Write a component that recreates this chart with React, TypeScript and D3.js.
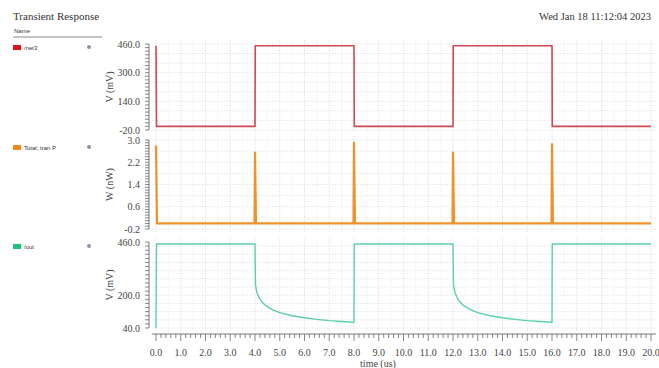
import React from 'react';
import * as d3 from 'd3';

// time axis labels (us)
const timeTicks = [0, 1, 2, 3, 4, 5, 6, 7, 8, 9, 10, 11, 12, 13, 14, 15, 16, 17, 18, 19, 20];

// /net3 (mV)
const net3Times = [0, 0.02, 4, 4.01, 8, 8.01, 12, 12.01, 16, 16.01, 20];
const net3Values = [450, 0, 0, 450, 450, 0, 0, 450, 450, 0, 0];

// Total; tran P (nW)
const powerTimes = [0, 0.04, 3.98, 4.0, 4.04, 7.98, 8.0, 8.04, 11.98, 12.0, 12.04, 15.98, 16.0, 16.04, 20];
const powerValues = [2.8, 0.0, 0.0, 2.55, 0.0, 0.0, 2.9, 0.0, 0.0, 2.55, 0.0, 0.0, 2.85, 0.0, 0.0];

// /out (mV)
const outTimes = [
  0, 0.02, 4.0, 4.02, 4.08, 4.2, 4.4, 4.7, 5.0, 5.5, 6.0, 6.5, 7.0, 7.5, 8.0, 8.01,
  12.0, 12.02, 12.08, 12.2, 12.4, 12.7, 13.0, 13.5, 14.0, 14.5, 15.0, 15.5, 16.0, 16.01, 20,
];
const outValues = [
  40, 450, 450, 250, 212, 180, 152, 130, 115, 100, 90, 82, 76, 72, 68, 450,
  450, 250, 212, 180, 152, 130, 115, 100, 90, 82, 76, 72, 68, 450, 450,
];

const net3Labels = [460, 300, 140, -20];
const powerLabels = [3.0, 2.2, 1.4, 0.6, -0.2];
const outLabels = [460, 200, 40];

const serifFamily = 'Liberation Serif, Times New Roman, DejaVu Serif, serif';
const sansFamily = 'Liberation Sans, DejaVu Sans, sans-serif';

const x = d3.scaleLinear().domain([0, 20]).range([156, 651]);
const plotLeft = 152;
const plotRight = 656;

type Panel = {
  name: string;
  swatch: string;
  color: string;
  width: number;
  unit: string;
  domain: [number, number];
  range: [number, number];
  labels: number[];
  minor: number;
  grid: number;
  times: number[];
  values: number[];
  legendY: number;
};

const panels: Panel[] = [
  {
    name: '/net3', swatch: '#e0141e', color: '#cf4a52', width: 1.6, unit: 'V (mV)',
    domain: [-20, 460], range: [130, 44], labels: net3Labels, minor: 20, grid: 160 / 3,
    times: net3Times, values: net3Values, legendY: 47,
  },
  {
    name: 'Total; tran P', swatch: '#f08a1c', color: '#f0922a', width: 2.2, unit: 'W (nW)',
    domain: [-0.2, 3.0], range: [229, 140], labels: powerLabels, minor: 0.1, grid: 0.4,
    times: powerTimes, values: powerValues, legendY: 147,
  },
  {
    name: '/out', swatch: '#20c080', color: '#5ccfae', width: 1.4, unit: 'V (mV)',
    domain: [40, 460], range: [328, 242], labels: outLabels, minor: 20, grid: 40,
    times: outTimes, values: outValues, legendY: 246,
  },
];

const PanelView = ({ p }: { p: Panel }) => {
  const y = d3.scaleLinear().domain(p.domain).range(p.range);
  const top = p.range[1] - 4;
  const bottom = p.range[0] + 4;
  const pts = p.times.map((t, i) => [t, p.values[i]] as [number, number]);
  const line = d3
    .line<[number, number]>()
    .x((d) => x(d[0]))
    .y((d) => y(d[1]));

  const minorTicks: number[] = [];
  for (let v = p.domain[0]; v <= p.domain[1] + 1e-9; v += p.minor) minorTicks.push(v);
  const gridLines: number[] = [];
  for (let v = p.domain[0]; v <= p.domain[1] + 1e-9; v += p.grid) gridLines.push(v);
  const vGrid: number[] = [];
  for (let t = 0; t <= 20.001; t += 0.5) vGrid.push(t);

  const mid = (p.range[0] + p.range[1]) / 2;

  return (
    <g>
      {/* legend */}
      <rect x={13} y={p.legendY - 2} width={8} height={5} fill={p.swatch} />
      <text x={24} y={p.legendY + 2.5} fontSize={6} fontFamily={sansFamily} fill="#333">
        {p.name}
      </text>
      <circle cx={89} cy={p.legendY} r={2} fill="#8a94a8" />

      {/* grid */}
      <rect x={plotLeft} y={top} width={plotRight - plotLeft} height={bottom - top} fill="#fff" />
      {gridLines.map((v, i) => (
        <line key={'h' + i} x1={plotLeft} x2={plotRight} y1={y(v)} y2={y(v)}
          stroke="#d8d8d8" strokeWidth={0.8} strokeDasharray="1,1.5" />
      ))}
      {vGrid.map((t, i) => (
        <line key={'v' + i} x1={x(t)} x2={x(t)} y1={top} y2={bottom}
          stroke={i % 2 === 0 ? '#d0d0d0' : '#e4e4e4'} strokeWidth={0.8} strokeDasharray="1,1.5" />
      ))}

      {/* y ruler */}
      <line x1={149} x2={149} y1={p.range[1]} y2={p.range[0]} stroke="#555" strokeWidth={0.8} />
      {minorTicks.map((v, i) => (
        <line key={'t' + i} x1={145} x2={149} y1={y(v)} y2={y(v)} stroke="#555" strokeWidth={0.7} />
      ))}
      {p.labels.map((v) => (
        <text key={'l' + v} x={140} y={y(v) + 3.5} textAnchor="end" fontSize={10}
          fontFamily={serifFamily} fill="#444">
          {v.toFixed(1)}
        </text>
      ))}
      <text transform={`translate(113,${mid}) rotate(-90)`} textAnchor="middle" fontSize={10}
        fontFamily={serifFamily} fill="#444">
        {p.unit}
      </text>

      {/* trace */}
      <path d={line(pts) || ''} fill="none" stroke={p.color} strokeWidth={p.width}
        strokeLinejoin="round" />
    </g>
  );
};

export default function App() {
  const xMinor: number[] = [];
  for (let t = 0; t <= 20.001; t += 0.2) xMinor.push(t);

  return (
    <svg width={659} height={368} style={{ position: 'absolute', left: 0, top: 0, background: '#fff' }}>
      <text x={13} y={20} fontSize={11} fontFamily={serifFamily} fill="#333">Transient Response</text>
      <text x={651} y={20} fontSize={10.5} fontFamily={serifFamily} fill="#333" textAnchor="end">
        Wed Jan 18 11:12:04 2023
      </text>
      <text x={14} y={33} fontSize={6} fontFamily={sansFamily} fill="#333">Name</text>
      <line x1={13} x2={102} y1={37} y2={37} stroke="#888" strokeWidth={1} />

      {panels.map((p) => (
        <PanelView key={p.name} p={p} />
      ))}

      {/* time axis */}
      <line x1={plotLeft} x2={plotRight} y1={334} y2={334} stroke="#555" strokeWidth={0.8} />
      {xMinor.map((t, i) => (
        <line key={i} x1={x(t)} x2={x(t)} y1={334} y2={i % 5 === 0 ? 341 : 338}
          stroke="#555" strokeWidth={0.7} />
      ))}
      {timeTicks.map((t) => (
        <text key={t} x={x(t)} y={356} textAnchor="middle" fontSize={10} fontFamily={serifFamily} fill="#444">
          {t.toFixed(1)}
        </text>
      ))}
      <text x={378} y={367} textAnchor="middle" fontSize={10} fontFamily={serifFamily} fill="#444">time (us)</text>
    </svg>
  );
}
